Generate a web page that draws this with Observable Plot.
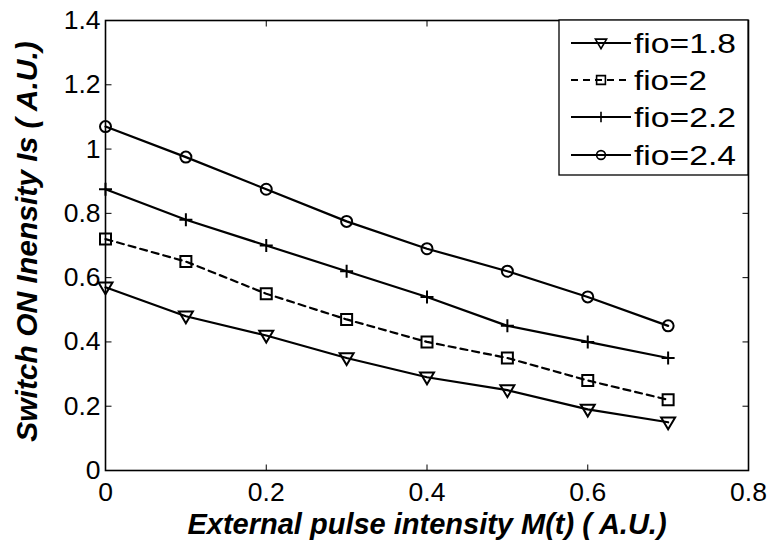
<!DOCTYPE html>
<html><head><meta charset="utf-8">
<script src="https://cdn.jsdelivr.net/npm/d3@7"></script>
<script src="https://cdn.jsdelivr.net/npm/@observablehq/plot@0.6"></script>
<style>
body{margin:0;background:#fff;}
#chart{position:relative;width:773px;height:540px;}
#chart svg{font-family:"Liberation Sans",Arial,sans-serif;}
</style>
</head><body><div id="chart"></div>
<script>
// ---- data ----
const xValues = [0, 0.1, 0.2, 0.3, 0.4, 0.5, 0.6, 0.7];
const fio18 = [0.57, 0.48, 0.42, 0.35, 0.29, 0.25, 0.19, 0.15];
const fio20 = [0.72, 0.65, 0.55, 0.47, 0.40, 0.35, 0.28, 0.22];
const fio22 = [0.875, 0.78, 0.70, 0.62, 0.54, 0.45, 0.40, 0.35];
const fio24 = [1.07, 0.975, 0.875, 0.775, 0.69, 0.62, 0.54, 0.45];
const seriesNames = ["fio=1.8", "fio=2", "fio=2.2", "fio=2.4"];
const xTicks = [0, 0.2, 0.4, 0.6, 0.8];
const yTicks = [0, 0.2, 0.4, 0.6, 0.8, 1, 1.2, 1.4];
const xDomain = [0, 0.8];
const yDomain = [0, 1.4];
const xLabel = "External pulse intensity M(t) ( A.U.)";
const yLabel = "Switch ON Inensity Is ( A.U.)";

// ---- marker symbols (MATLAB-like) ----
const triDown = {draw(c){ c.moveTo(-7,-4.8); c.lineTo(7,-4.8); c.lineTo(0,7); c.closePath(); }};
const square = {draw(c){ c.rect(-5.5,-5.5,11,11); }};
const plus = {draw(c){ c.moveTo(-6.5,0); c.lineTo(6.5,0); c.moveTo(0,-6.5); c.lineTo(0,6.5); }};
const circle = {draw(c){ c.moveTo(5.5,0); c.arc(0,0,5.5,0,2*Math.PI); c.closePath(); }};
const symbols = [triDown, square, plus, circle];
const dashes = [null, "7,5", null, null];
const seriesValues = [fio18, fio20, fio22, fio24];

// inward tick symbols
const tickUp = {draw(c){ c.moveTo(0,0); c.lineTo(0,-6); }};
const tickDown = {draw(c){ c.moveTo(0,0); c.lineTo(0,6); }};
const tickRight = {draw(c){ c.moveTo(0,0); c.lineTo(6,0); }};
const tickLeft = {draw(c){ c.moveTo(0,0); c.lineTo(-6,0); }};

const rows = seriesNames.map((name, i) => xValues.map((x, j) => ({name, i, x, y: seriesValues[i][j]})));

const marks = [];
rows.forEach((r, i) => {
  marks.push(Plot.line(r, {x: "x", y: "y", stroke: "black", strokeWidth: 2.2, strokeDasharray: dashes[i] || undefined}));
  marks.push(Plot.dot(r, {x: "x", y: "y", symbol: symbols[i], stroke: "black", fill: "none", strokeWidth: 2}));
});

const chart = Plot.plot({
  width: 773, height: 540,
  marginLeft: 105, marginRight: 25, marginTop: 20, marginBottom: 70,
  x: {domain: xDomain},
  y: {domain: yDomain},
  style: {fontFamily: '"Liberation Sans", Arial, sans-serif', color: "black", background: "white"},
  marks: [
    ...marks,
    Plot.dot(xTicks, {x: d => d, y: () => yDomain[0], symbol: tickUp, stroke: "black", strokeWidth: 1}),
    Plot.dot(xTicks, {x: d => d, y: () => yDomain[1], symbol: tickDown, stroke: "black", strokeWidth: 1}),
    Plot.dot(yTicks, {y: d => d, x: () => xDomain[0], symbol: tickRight, stroke: "black", strokeWidth: 1}),
    Plot.dot(yTicks, {y: d => d, x: () => xDomain[1], symbol: tickLeft, stroke: "black", strokeWidth: 1}),
    Plot.axisX(xTicks, {tickSize: 0, tickPadding: 12, fontSize: 26.5, label: null, tickFormat: d => String(d)}),
    Plot.axisY(yTicks, {tickSize: 0, tickPadding: 5, fontSize: 26.5, label: null, tickFormat: d => String(d)}),
    Plot.frame({stroke: "black", strokeWidth: 1.6}),
    Plot.text([xLabel], {frameAnchor: "bottom", dy: 63, fontSize: 29, fontWeight: "bold", fontStyle: "italic", fill: "black", textAnchor: "middle", ariaLabel: "xlabel"}),
    Plot.text([yLabel], {frameAnchor: "left", rotate: -90, dx: -78, dy: -4, fontSize: 30, fontWeight: "bold", fontStyle: "italic", fill: "black", textAnchor: "middle", ariaLabel: "ylabel"})
  ]
});

d3.select(chart).selectAll('g[aria-label="xlabel"] text')
  .attr("textLength", 536).attr("lengthAdjust", "spacingAndGlyphs");

// ---- legend (inside the plot, top-right, MATLAB style) ----
const svg = d3.select(chart);
const lg = svg.append("g").attr("class", "legend").attr("text-anchor", "start");
const box = {x: 559, y: 20, w: 189, h: 155};
lg.append("rect").attr("x", box.x).attr("y", box.y).attr("width", box.w).attr("height", box.h)
  .attr("fill", "white").attr("stroke", "black").attr("stroke-width", 1.3);
const rowY = [43, 80, 117, 155];
seriesNames.forEach((name, i) => {
  const y = rowY[i];
  lg.append("line").attr("x1", 571).attr("x2", 631).attr("y1", y).attr("y2", y)
    .attr("stroke", "black").attr("stroke-width", 2).attr("stroke-dasharray", dashes[i]);
  const p = d3.path(); symbols[i].draw(p, 0);
  lg.append("path").attr("d", p.toString()).attr("transform", `translate(601,${y}) scale(0.8)`)
    .attr("fill", "none").attr("stroke", "black").attr("stroke-width", 2);
  lg.append("text").attr("x", 634).attr("y", y + 9.5).attr("font-size", 27).attr("fill", "black")
    .attr("text-anchor", "start")
    .attr("textLength", 102 * (name.length / 7)).attr("lengthAdjust", "spacingAndGlyphs").text(name);
});

document.getElementById("chart").appendChild(chart);
</script>
</body></html>
